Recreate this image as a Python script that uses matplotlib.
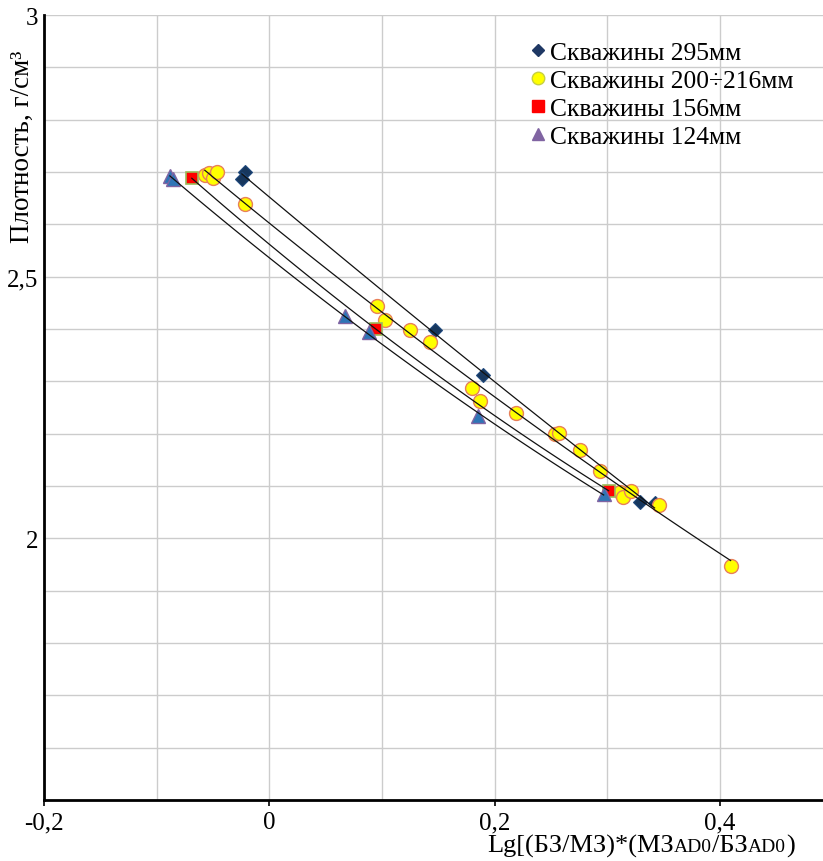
import numpy as np
import matplotlib
matplotlib.use("Agg")
import matplotlib.pyplot as plt
from matplotlib.lines import Line2D
from matplotlib.offsetbox import TextArea, HPacker, AnchoredOffsetbox

plt.rcParams['font.family'] = ['Liberation Serif', 'DejaVu Serif']

# Скважины 295мм
x295 = [-0.0217, -0.0244, 0.1469, 0.1895, 0.3287, 0.3420]
y295 = [2.700, 2.687, 2.398, 2.312, 2.070, 2.068]

# Скважины 200÷216мм
x200 = [-0.0572, -0.0537, -0.0501, -0.0466, -0.0217, 0.0954, 0.1025, 0.1247,
        0.1424, 0.1797, 0.1868, 0.2187, 0.2533, 0.2569, 0.2755, 0.2933,
        0.3110, 0.3137, 0.3208, 0.3456, 0.4095]
y200 = [2.694, 2.698, 2.688, 2.700, 2.639, 2.444, 2.417, 2.398,
        2.375, 2.287, 2.262, 2.240, 2.199, 2.201, 2.169, 2.129,
        2.089, 2.079, 2.091, 2.064, 1.948]

# Скважины 156мм
x156 = [-0.0688, 0.0945, 0.3012]
y156 = [2.688, 2.400, 2.091]

# Скважины 124мм
x124 = [-0.0883, -0.0856, 0.0670, 0.0883, 0.1850, 0.2968]
y124 = [2.693, 2.686, 2.425, 2.394, 2.234, 2.085]

labels = ['Скважины 295мм', 'Скважины 200÷216мм', 'Скважины 156мм', 'Скважины 124мм']

fig = plt.figure(figsize=(8.23, 8.62), dpi=100)
ax = fig.add_axes([44 / 823, 61 / 862, 1 - 44 / 823, (801 - 16) / 862])

ax.plot(x295, y295, 'D', ms=7.5, mfc='#17375E', mec='#1F497D', mew=0.8, ls='none', zorder=3)
ax.plot(x200, y200, 'o', ms=10, mfc='#FFFF00', mec='#E8805A', mew=1.0, ls='none', zorder=3)
ax.plot(x156, y156, 's', ms=8.5, mfc='#FF0000', mec='#9BBB59', mew=1.2, ls='none', zorder=3)
ax.plot(x124, y124, '^', ms=10, mfc='#2E75B6', mec='#8064A2', mew=1.0, ls='none', zorder=3)

# trend lines (2nd order) over each series
for xs, ys in [(x295, y295), (x200, y200), (x156, y156), (x124, y124)]:
    c = np.polyfit(xs, ys, 2)
    xx = np.linspace(min(xs), max(xs), 100)
    ax.plot(xx, np.polyval(c, xx), color='#111111', lw=0.9, zorder=4)

ax.set_xlim(-0.2, 0.4915)
ax.set_ylim(1.5, 3.0)
ax.set_xticks([-0.2, 0, 0.2, 0.4])
ax.set_xticklabels(['-0,2', '0', '0,2', '0,4'])
ax.set_xticks(np.arange(-0.1, 0.5, 0.1), minor=True)
ax.set_yticks([2, 2.5, 3])
ax.set_yticklabels(['2', '2,5', '3'])
ax.set_yticks(np.arange(1.6, 3.0, 0.1), minor=True)
ax.grid(True, which='both', color='#cccccc', lw=1.0, zorder=0)
ax.set_axisbelow(True)
ax.tick_params(axis='x', which='major', length=4, width=1.2, labelsize=18, pad=4)
ax.tick_params(axis='y', which='major', length=0, labelsize=18, pad=4)
ax.tick_params(which='minor', length=0)
for s in ['top', 'right']:
    ax.spines[s].set_visible(False)
for s in ['left', 'bottom']:
    ax.spines[s].set_linewidth(2)
    ax.spines[s].set_color('black')
ax.set_ylabel('Плотность, г/см³', fontsize=19.5)
ax.yaxis.set_label_coords(-0.012, 0.833)

# x label with small "AD0" parts
big = dict(fontsize=19, family=['Liberation Serif', 'DejaVu Serif'])
small = dict(fontsize=14, family=['Liberation Serif', 'DejaVu Serif'])
parts = [('Lg[(БЗ/МЗ)*(МЗ', big), ('AD0', small), ('/БЗ', big), ('AD0', small), (')', big)]
box = HPacker(children=[TextArea(t, textprops=p) for t, p in parts],
              align='baseline', pad=0, sep=0)
anch = AnchoredOffsetbox(loc='center', child=box, pad=0, frameon=False,
                         bbox_to_anchor=(641 / 823, 1 - 846 / 862),
                         bbox_transform=fig.transFigure, borderpad=0)
ax.add_artist(anch)

handles = [
    Line2D([], [], marker='D', ls='none', ms=6, mfc='#1F3864', mec='#1F3864'),
    Line2D([], [], marker='o', ls='none', ms=9, mfc='#FFFF00', mec='#C8D040'),
    Line2D([], [], marker='s', ls='none', ms=8, mfc='#FF0000', mec='#FF0000'),
    Line2D([], [], marker='^', ls='none', ms=9, mfc='#8064A2', mec='#8064A2'),
]
leg = ax.legend(handles, labels, loc='upper left', bbox_to_anchor=(0.626, 0.967),
                frameon=False, fontsize=18.4, handlelength=0.5, handletextpad=0.2,
                labelspacing=0.2, borderaxespad=0, borderpad=0)

fig.savefig('out.png', dpi=100)
